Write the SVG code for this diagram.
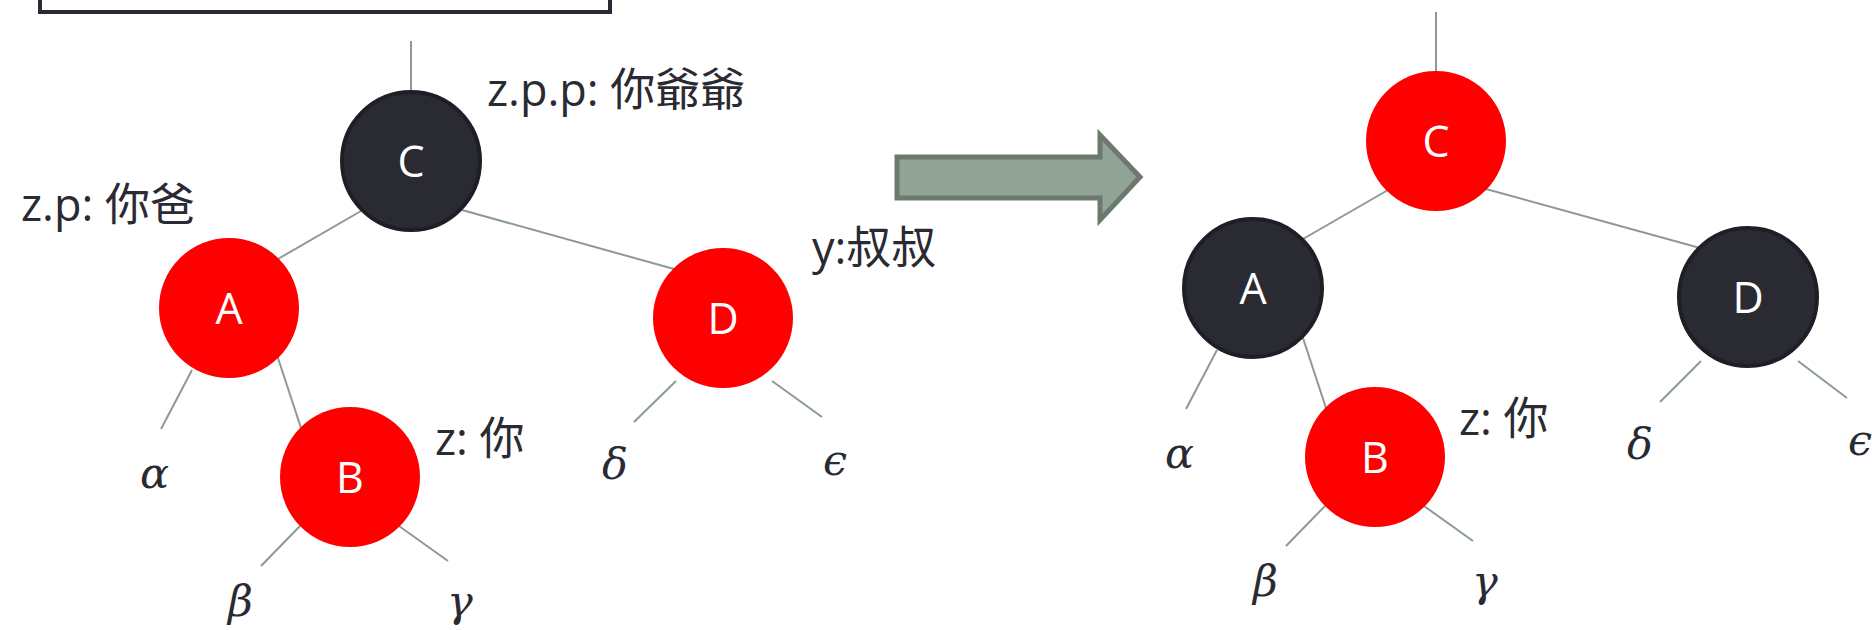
<svg xmlns="http://www.w3.org/2000/svg" width="1872" height="630" viewBox="0 0 1872 630">
<style>
.red{fill:#ff0000}
.blk{fill:#2a2a33;stroke:#1e1e26;stroke-width:4}
.nl{font-family:"Open Sans","Noto Sans CJK SC",sans-serif;font-size:43px;fill:#ffffff;text-anchor:middle}
.lb{font-family:"Open Sans","Noto Sans CJK SC",sans-serif;font-size:45px;fill:#2a2a33}
.gk{font-family:"DejaVu Serif",serif;font-style:italic;font-size:43px;fill:#2a2a33}
.edges line{stroke:#8c9a94;stroke-width:2}
</style>
<rect width="1872" height="630" fill="#ffffff"/>
<rect id="box" x="40" y="-20" width="570" height="32" fill="#ffffff" stroke="#2a2a33" stroke-width="4"/>
<g id="connectors" class="edges">
<line x1="411" y1="41" x2="411" y2="91"/>
<line x1="361" y1="211" x2="278" y2="259"/>
<line x1="462" y1="210" x2="674" y2="269"/>
<line x1="192" y1="370" x2="161" y2="429"/>
<line x1="277" y1="355" x2="301" y2="428"/>
<line x1="300" y1="526" x2="261" y2="566"/>
<line x1="399" y1="526" x2="448" y2="561"/>
<line x1="676" y1="381" x2="634" y2="422"/>
<line x1="772" y1="381" x2="822" y2="417"/>
<line x1="1436" y1="12" x2="1436" y2="71"/>
<line x1="1388" y1="190" x2="1303" y2="239"/>
<line x1="1486" y1="189" x2="1700" y2="248"/>
<line x1="1217" y1="350" x2="1186" y2="409"/>
<line x1="1302" y1="335" x2="1326" y2="408"/>
<line x1="1325" y1="506" x2="1286" y2="546"/>
<line x1="1424" y1="506" x2="1473" y2="541"/>
<line x1="1701" y1="361" x2="1660" y2="402"/>
<line x1="1798" y1="361" x2="1847" y2="398"/>
</g>
<g id="arrow">
<polygon points="897,157 1100,157 1100,135 1140,177 1100,220 1100,198 897,198" fill="#91a396" stroke="#6b7a6d" stroke-width="5"/>
</g>
<g id="left-C"><circle class="blk" cx="411" cy="161" r="69"/><text class="nl" x="411" y="177">C</text></g>
<g id="left-A"><circle class="red" cx="229" cy="308" r="70"/><text class="nl" x="229" y="324">A</text></g>
<g id="left-D"><circle class="red" cx="723" cy="318" r="70"/><text class="nl" x="723" y="334">D</text></g>
<g id="left-B"><circle class="red" cx="350" cy="477" r="70"/><text class="nl" x="350" y="493">B</text></g>
<g id="right-C"><circle class="red" cx="1436" cy="141" r="70"/><text class="nl" x="1436" y="157">C</text></g>
<g id="right-A"><circle class="blk" cx="1253" cy="288" r="69"/><text class="nl" x="1253" y="304">A</text></g>
<g id="right-D"><circle class="blk" cx="1748" cy="297" r="69"/><text class="nl" x="1748" y="313">D</text></g>
<g id="right-B"><circle class="red" cx="1375" cy="457" r="70"/><text class="nl" x="1375" y="473">B</text></g>
<g id="labels">
<text class="lb" x="487" y="106">z.p.p: 你爺爺</text>
<text class="lb" x="21" y="221">z.p: 你爸</text>
<text class="lb" x="812" y="264">y:叔叔</text>
<text class="lb" x="435" y="455">z: 你</text>
<text class="lb" x="1459" y="435">z: 你</text>
</g>
<g id="leaves">
<text class="gk" x="140" y="488">α</text>
<text class="gk" x="228" y="616">β</text>
<text class="gk" x="447" y="616">γ</text>
<text class="gk" x="602" y="479">δ</text>
<text class="gk" x="823" y="475">ϵ</text>
<text class="gk" x="1165" y="468">α</text>
<text class="gk" x="1253" y="596">β</text>
<text class="gk" x="1472" y="596">γ</text>
<text class="gk" x="1627" y="459">δ</text>
<text class="gk" x="1848" y="455">ϵ</text>
</g>
</svg>
